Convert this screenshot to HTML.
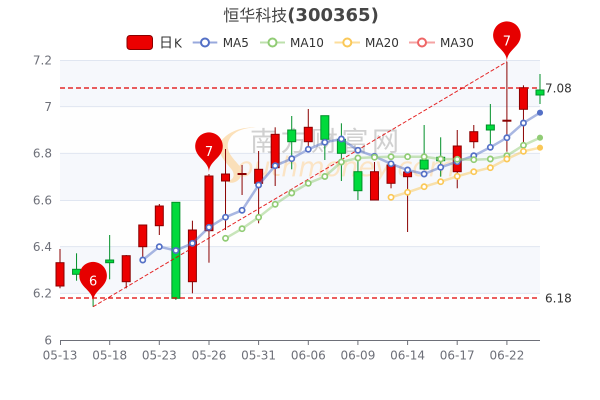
<!DOCTYPE html>
<html><head><meta charset="utf-8"><style>
html,body{margin:0;padding:0;background:#fff;}
svg{display:block;}
text{font-family:"DejaVu Sans","Liberation Sans","Noto Sans CJK SC",sans-serif;}
</style></head><body>
<svg width="600" height="400" viewBox="0 0 600 400" xmlns="http://www.w3.org/2000/svg">
<!-- title -->
<text x="301" y="21" text-anchor="middle" fill="#464646" font-size="18"><tspan font-family="'Noto Sans CJK SC',sans-serif" font-size="16" font-weight="normal">恒华科技</tspan><tspan font-weight="bold">(300365)</tspan></text>
<!-- legend -->
<rect x="127" y="35.5" width="25.5" height="14" rx="3" fill="#ec0000" stroke="#8a0000" stroke-width="1"/>
<text x="159" y="47.5" fill="#333" font-size="12"><tspan font-family="'Noto Sans CJK SC',sans-serif" font-size="14">日</tspan><tspan dx="1">K</tspan></text>
<g stroke-width="2" fill="#fff">
<line x1="192.7" y1="42.5" x2="217.3" y2="42.5" stroke="#5470c6" stroke-opacity="0.6"/><circle cx="205" cy="42.5" r="4" stroke="#5470c6"/>
<line x1="260" y1="42.5" x2="285" y2="42.5" stroke="#91cc75" stroke-opacity="0.6"/><circle cx="272.5" cy="42.5" r="4" stroke="#91cc75"/>
<line x1="334.5" y1="42.5" x2="360" y2="42.5" stroke="#fac858" stroke-opacity="0.6"/><circle cx="347.3" cy="42.5" r="4" stroke="#fac858"/>
<line x1="409" y1="42.5" x2="435" y2="42.5" stroke="#ee6666" stroke-opacity="0.6"/><circle cx="422" cy="42.5" r="4" stroke="#ee6666"/>
</g>
<g fill="#333" font-size="12">
<text x="222.7" y="47">MA5</text><text x="290" y="47">MA10</text><text x="365" y="47">MA20</text><text x="440" y="47">MA30</text>
</g>
<!-- split areas -->
<rect x="60" y="60" width="480" height="46.67" fill="#f6f8fc"/>
<rect x="60" y="106.67" width="480" height="46.67" fill="#fefefe"/>
<rect x="60" y="153.33" width="480" height="46.67" fill="#f6f8fc"/>
<rect x="60" y="200" width="480" height="46.67" fill="#fefefe"/>
<rect x="60" y="246.67" width="480" height="46.67" fill="#f6f8fc"/>
<rect x="60" y="293.33" width="480" height="46.67" fill="#fefefe"/>
<g stroke="#e0e6f1" stroke-width="1">
<line x1="60" y1="60.5" x2="540" y2="60.5"/><line x1="60" y1="106.67" x2="540" y2="106.67"/><line x1="60" y1="153.33" x2="540" y2="153.33"/><line x1="60" y1="200.5" x2="540" y2="200.5"/><line x1="60" y1="246.67" x2="540" y2="246.67"/><line x1="60" y1="293.33" x2="540" y2="293.33"/>
</g>
<!-- y labels -->
<g fill="#6e7079" font-size="12" text-anchor="end">
<text x="52" y="64.3">7.2</text><text x="52" y="111">7</text><text x="52" y="157.6">6.8</text><text x="52" y="204.3">6.6</text><text x="52" y="251">6.4</text><text x="52" y="297.6">6.2</text><text x="52" y="344.3">6</text>
</g>
<!-- watermark -->
<g>
<path d="M258,128 C236,126 222,140 230,154 C236,164 246,168 240,178 C236,184 228,184 226,180 C232,182 236,176 232,170 C226,162 214,152 222,140 C230,130 246,126 258,128 Z" fill="#fbd7a3" fill-opacity="0.75"/>
<text x="237" y="176" font-family="'Liberation Serif',serif" font-style="italic" font-size="27" fill="#fbe0bb" fill-opacity="0.85">outhmoney.com</text>
<text x="250" y="151" font-family="'Noto Sans CJK SC',sans-serif" font-size="27" letter-spacing="3.5" fill="#c4c4c4" fill-opacity="0.8">南方财富网</text>
</g>
<!-- x axis -->
<line x1="60" y1="340.5" x2="540" y2="340.5" stroke="#6e7079" stroke-width="1"/>
<g stroke="#6e7079" stroke-width="1">
<line x1="60.5" y1="340" x2="60.5" y2="345"/><line x1="109.7" y1="340" x2="109.7" y2="345"/><line x1="159.3" y1="340" x2="159.3" y2="345"/><line x1="209" y1="340" x2="209" y2="345"/><line x1="258.6" y1="340" x2="258.6" y2="345"/><line x1="308.3" y1="340" x2="308.3" y2="345"/><line x1="357.9" y1="340" x2="357.9" y2="345"/><line x1="407.6" y1="340" x2="407.6" y2="345"/><line x1="457.2" y1="340" x2="457.2" y2="345"/><line x1="506.9" y1="340" x2="506.9" y2="345"/>
</g>
<g fill="#6e7079" font-size="12" text-anchor="middle">
<text x="60" y="359.5">05-13</text><text x="109.7" y="359.5">05-18</text><text x="159.3" y="359.5">05-23</text><text x="209" y="359.5">05-26</text><text x="258.6" y="359.5">05-31</text><text x="308.3" y="359.5">06-06</text><text x="357.9" y="359.5">06-09</text><text x="407.6" y="359.5">06-14</text><text x="457.2" y="359.5">06-17</text><text x="506.9" y="359.5">06-22</text>
</g>
<!-- candles -->
<g stroke-width="1">
<!-- red: fill #ec0000 stroke #8a0000 ; green: fill #00da3c stroke #008f28 -->
<line x1="60" y1="249" x2="60" y2="288.3" stroke="#8a0000"/><rect x="56" y="262.7" width="8" height="23.3" fill="#ec0000" stroke="#8a0000"/>
<line x1="76.55" y1="253.3" x2="76.55" y2="280.7" stroke="#008f28"/><rect x="72.55" y="269.3" width="8" height="5" fill="#00da3c" stroke="#008f28"/>
<line x1="93.1" y1="280" x2="93.1" y2="306.7" stroke="#008f28"/><rect x="89.1" y="285" width="8" height="5" fill="#00da3c" stroke="#008f28"/>
<line x1="109.66" y1="235" x2="109.66" y2="279.3" stroke="#008f28"/><rect x="105.66" y="260" width="8" height="2.7" fill="#00da3c" stroke="#008f28"/>
<line x1="126.21" y1="255" x2="126.21" y2="288.3" stroke="#8a0000"/><rect x="122.21" y="255.7" width="8" height="26" fill="#ec0000" stroke="#8a0000"/>
<line x1="142.76" y1="225" x2="142.76" y2="260" stroke="#8a0000"/><rect x="138.76" y="225" width="8" height="21.7" fill="#ec0000" stroke="#8a0000"/>
<line x1="159.31" y1="204" x2="159.31" y2="235" stroke="#8a0000"/><rect x="155.31" y="206" width="8" height="19.7" fill="#ec0000" stroke="#8a0000"/>
<line x1="175.86" y1="202.3" x2="175.86" y2="300" stroke="#008f28"/><rect x="171.86" y="202.3" width="8" height="96" fill="#00da3c" stroke="#008f28"/>
<line x1="192.41" y1="220.7" x2="192.41" y2="293.3" stroke="#8a0000"/><rect x="188.41" y="230" width="8" height="51.7" fill="#ec0000" stroke="#8a0000"/>
<line x1="208.97" y1="174" x2="208.97" y2="262.7" stroke="#8a0000"/><rect x="204.97" y="176" width="8" height="54.7" fill="#ec0000" stroke="#8a0000"/>
<line x1="225.52" y1="149" x2="225.52" y2="230" stroke="#8a0000"/><rect x="221.52" y="174" width="8" height="7" fill="#ec0000" stroke="#8a0000"/>
<line x1="242.07" y1="165" x2="242.07" y2="195" stroke="#8a0000"/><rect x="238.07" y="173.5" width="8" height="1" fill="#ec0000" stroke="#8a0000"/>
<line x1="258.62" y1="151" x2="258.62" y2="223.3" stroke="#8a0000"/><rect x="254.62" y="169.3" width="8" height="14" fill="#ec0000" stroke="#8a0000"/>
<line x1="275.17" y1="127.3" x2="275.17" y2="186" stroke="#8a0000"/><rect x="271.17" y="134.3" width="8" height="33.4" fill="#ec0000" stroke="#8a0000"/>
<line x1="291.72" y1="116" x2="291.72" y2="169.3" stroke="#008f28"/><rect x="287.72" y="130" width="8" height="11.7" fill="#00da3c" stroke="#008f28"/>
<line x1="308.28" y1="109" x2="308.28" y2="148.3" stroke="#8a0000"/><rect x="304.28" y="127.3" width="8" height="14.4" fill="#ec0000" stroke="#8a0000"/>
<line x1="324.83" y1="115.7" x2="324.83" y2="160" stroke="#008f28"/><rect x="320.83" y="115.7" width="8" height="23.6" fill="#00da3c" stroke="#008f28"/>
<line x1="341.38" y1="123.3" x2="341.38" y2="181" stroke="#008f28"/><rect x="337.38" y="139.3" width="8" height="14" fill="#00da3c" stroke="#008f28"/>
<line x1="357.93" y1="160.5" x2="357.93" y2="200" stroke="#008f28"/><rect x="353.93" y="171.7" width="8" height="19" fill="#00da3c" stroke="#008f28"/>
<line x1="374.48" y1="162" x2="374.48" y2="200" stroke="#8a0000"/><rect x="370.48" y="171.7" width="8" height="28.3" fill="#ec0000" stroke="#8a0000"/>
<line x1="391.03" y1="163" x2="391.03" y2="188.3" stroke="#8a0000"/><rect x="387.03" y="165" width="8" height="18.3" fill="#ec0000" stroke="#8a0000"/>
<line x1="407.59" y1="167.3" x2="407.59" y2="232" stroke="#8a0000"/><rect x="403.59" y="172" width="8" height="4.7" fill="#ec0000" stroke="#8a0000"/>
<line x1="424.14" y1="125" x2="424.14" y2="170" stroke="#008f28"/><rect x="420.14" y="160" width="8" height="9" fill="#00da3c" stroke="#008f28"/>
<line x1="440.69" y1="137.3" x2="440.69" y2="176.7" stroke="#008f28"/><rect x="436.69" y="157.3" width="8" height="3.4" fill="#00da3c" stroke="#008f28"/>
<line x1="457.24" y1="130" x2="457.24" y2="188.3" stroke="#8a0000"/><rect x="453.24" y="146" width="8" height="25.7" fill="#ec0000" stroke="#8a0000"/>
<line x1="473.79" y1="125" x2="473.79" y2="148.3" stroke="#8a0000"/><rect x="469.79" y="131.7" width="8" height="10" fill="#ec0000" stroke="#8a0000"/>
<line x1="490.34" y1="104" x2="490.34" y2="148.3" stroke="#008f28"/><rect x="486.34" y="125" width="8" height="5" fill="#00da3c" stroke="#008f28"/>
<line x1="506.9" y1="61.7" x2="506.9" y2="151.7" stroke="#8a0000"/><rect x="502.9" y="120.2" width="8" height="1" fill="#ec0000" stroke="#8a0000"/>
<line x1="523.45" y1="85.3" x2="523.45" y2="143.3" stroke="#8a0000"/><rect x="519.45" y="87.7" width="8" height="21.6" fill="#ec0000" stroke="#8a0000"/>
<line x1="540" y1="74" x2="540" y2="104" stroke="#008f28"/><rect x="536" y="90" width="8" height="5" fill="#00da3c" stroke="#008f28"/>
</g>
<!-- mark lines -->
<line x1="60" y1="88" x2="540" y2="88" stroke="#e00000" stroke-width="1.3" stroke-dasharray="5,3"/>
<line x1="60" y1="298" x2="540" y2="298" stroke="#e00000" stroke-width="1.3" stroke-dasharray="5,3"/>
<line x1="93.1" y1="306.7" x2="506.9" y2="61.7" stroke="#e00000" stroke-width="1" stroke-dasharray="4,2" stroke-opacity="0.85"/>
<text x="545" y="92.3" fill="#333" font-size="12">7.08</text>
<text x="545" y="302.3" fill="#333" font-size="12">6.18</text>
<!-- MA lines -->
<g fill="none" stroke-width="2.5" stroke-opacity="0.5" stroke-linejoin="round" stroke-linecap="round">
<polyline stroke="#5470c6" points="142.76,260 159.31,246.7 175.86,250.5 192.41,243.3 208.97,227.3 225.52,217.2 242.07,210.3 258.62,185 275.17,165.7 291.72,158.7 308.28,149.3 324.83,142.3 341.38,139 357.93,150.3 374.48,156.3 391.03,163.8 407.59,170 424.14,174 440.69,167.3 457.24,161.7 473.79,155.7 490.34,147.3 506.9,137.7 523.45,123 540,112.7"/>
<polyline stroke="#91cc75" points="225.52,238.3 242.07,228.7 258.62,217.3 275.17,204.3 291.72,193 308.28,183.3 324.83,176.5 341.38,162 357.93,158 374.48,157.2 391.03,156.7 407.59,156.7 424.14,156.7 440.69,159 457.24,159.3 473.79,159.7 490.34,159 506.9,155.7 523.45,145.3 540,137.7"/>
<polyline stroke="#fac858" points="391.03,197.3 407.59,192.3 424.14,186.7 440.69,181.7 457.24,176.3 473.79,171.7 490.34,167.7 506.9,159 523.45,151.3 540,147.7"/>
</g>
<g fill="#fff" stroke-width="1.7">
<g stroke="#5470c6">
<circle cx="142.76" cy="260" r="2.6"/><circle cx="159.31" cy="246.7" r="2.6"/><circle cx="175.86" cy="250.5" r="2.6"/><circle cx="192.41" cy="243.3" r="2.6"/><circle cx="208.97" cy="227.3" r="2.6"/><circle cx="225.52" cy="217.2" r="2.6"/><circle cx="242.07" cy="210.3" r="2.6"/><circle cx="258.62" cy="185" r="2.6"/><circle cx="275.17" cy="165.7" r="2.6"/><circle cx="291.72" cy="158.7" r="2.6"/><circle cx="308.28" cy="149.3" r="2.6"/><circle cx="324.83" cy="142.3" r="2.6"/><circle cx="341.38" cy="139" r="2.6"/><circle cx="357.93" cy="150.3" r="2.6"/><circle cx="374.48" cy="156.3" r="2.6"/><circle cx="391.03" cy="163.8" r="2.6"/><circle cx="407.59" cy="170" r="2.6"/><circle cx="424.14" cy="174" r="2.6"/><circle cx="440.69" cy="167.3" r="2.6"/><circle cx="457.24" cy="161.7" r="2.6"/><circle cx="473.79" cy="155.7" r="2.6"/><circle cx="490.34" cy="147.3" r="2.6"/><circle cx="506.9" cy="137.7" r="2.6"/><circle cx="523.45" cy="123" r="2.6"/><circle cx="540" cy="112.7" r="2.2" fill="#5470c6"/>
</g>
<g stroke="#91cc75">
<circle cx="225.52" cy="238.3" r="2.6"/><circle cx="242.07" cy="228.7" r="2.6"/><circle cx="258.62" cy="217.3" r="2.6"/><circle cx="275.17" cy="204.3" r="2.6"/><circle cx="291.72" cy="193" r="2.6"/><circle cx="308.28" cy="183.3" r="2.6"/><circle cx="324.83" cy="176.5" r="2.6"/><circle cx="341.38" cy="162" r="2.6"/><circle cx="357.93" cy="158" r="2.6"/><circle cx="374.48" cy="157.2" r="2.6"/><circle cx="391.03" cy="156.7" r="2.6"/><circle cx="407.59" cy="156.7" r="2.6"/><circle cx="424.14" cy="156.7" r="2.6"/><circle cx="440.69" cy="159" r="2.6"/><circle cx="457.24" cy="159.3" r="2.6"/><circle cx="473.79" cy="159.7" r="2.6"/><circle cx="490.34" cy="159" r="2.6"/><circle cx="506.9" cy="155.7" r="2.6"/><circle cx="523.45" cy="145.3" r="2.6"/><circle cx="540" cy="137.7" r="2.2" fill="#91cc75"/>
</g>
<g stroke="#fac858">
<circle cx="391.03" cy="197.3" r="2.6"/><circle cx="407.59" cy="192.3" r="2.6"/><circle cx="424.14" cy="186.7" r="2.6"/><circle cx="440.69" cy="181.7" r="2.6"/><circle cx="457.24" cy="176.3" r="2.6"/><circle cx="473.79" cy="171.7" r="2.6"/><circle cx="490.34" cy="167.7" r="2.6"/><circle cx="506.9" cy="159" r="2.6"/><circle cx="523.45" cy="151.3" r="2.6"/><circle cx="540" cy="147.7" r="2.2" fill="#fac858"/>
</g>
</g>
<!-- pins -->
<defs>
<path id="pin" d="M-12.47,-20.37 A13.8,13.8 0 1 1 12.47,-20.37 C8.92,-12.89 0,-9.66 0,0 C0,-9.66 -8.92,-12.89 -12.47,-20.37 Z"/>
</defs>
<g fill="#e60000">
<use href="#pin" transform="translate(93.1,302)"/>
<use href="#pin" transform="translate(208.97,172.5)"/>
<use href="#pin" transform="translate(506.9,61.5)"/>
</g>
<g fill="#fff" font-size="13" text-anchor="middle">
<text x="93.1" y="285.5">6</text>
<text x="208.97" y="156">7</text>
<text x="506.9" y="45.5">7</text>
</g>
</svg>
</body></html>
